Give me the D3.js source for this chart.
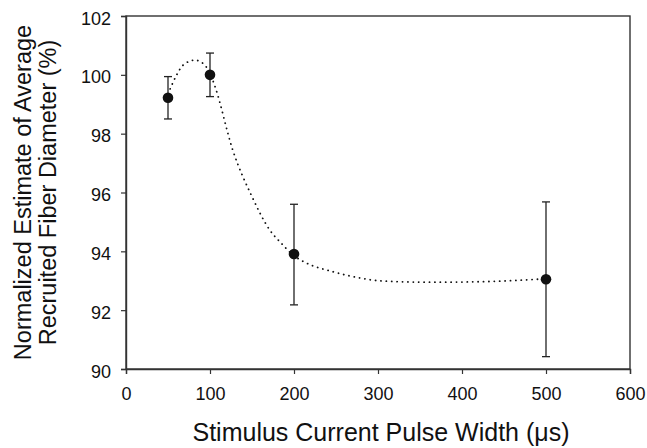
<!DOCTYPE html>
<html>
<head>
<meta charset="utf-8">
<script src="https://cdn.jsdelivr.net/npm/d3@7"></script>
<style>
  body { margin: 0; background: #fff; }
  text { font-family: "Liberation Sans", Arial, sans-serif; fill: #111; }
</style>
</head>
<body>
<svg width="647" height="448"></svg>
<script>
// measured points: pulse width (us), mean, error bar top / bottom
const pulseWidths = [50, 100, 200, 500];
const meanDiameter = [99.22, 100.0, 93.91, 93.05];
const errTop = [99.94, 100.74, 95.6, 95.68];
const errBottom = [98.5, 99.26, 92.18, 90.42];

// dotted fit curve
const fitX = [50, 60, 68, 82, 92, 100, 106, 127, 150, 171, 185, 200, 215, 246, 267, 306, 366, 425, 489, 500];
const fitY = [99.35, 99.98, 100.33, 100.5, 100.38, 100.05, 99.6, 97.45, 95.86, 94.73, 94.27, 93.85, 93.6, 93.31, 93.16, 92.99, 92.95, 92.97, 93.05, 93.07];

const xTicks = [0, 100, 200, 300, 400, 500, 600];
const yTicks = [90, 92, 94, 96, 98, 100, 102];

const margin = {top: 16, right: 17, bottom: 79, left: 126};
const width = 647, height = 448;

const svg = d3.select("svg");

const x = d3.scaleLinear().domain([0, 600]).range([margin.left, width - margin.right]);
const y = d3.scaleLinear().domain([90, 102]).range([height - margin.bottom, margin.top]);

const axisColor = "#333";

// box
svg.append("rect")
    .attr("x", x(0)).attr("y", y(102))
    .attr("width", x(600) - x(0)).attr("height", y(90) - y(102))
    .attr("fill", "none").attr("stroke", axisColor).attr("stroke-width", 1.4);

const xAxis = svg.append("g")
    .attr("transform", `translate(0,${y(90)})`)
    .call(d3.axisBottom(x).tickValues(xTicks).tickSize(5).tickPadding(13));

const yAxis = svg.append("g")
    .attr("transform", `translate(${x(0)},0)`)
    .call(d3.axisLeft(y).tickValues(yTicks).tickSize(5).tickPadding(10));

[xAxis, yAxis].forEach(g => {
    g.select(".domain").attr("stroke", axisColor).attr("stroke-width", 1.4);
    g.selectAll(".tick line").attr("stroke", axisColor).attr("stroke-width", 1.2);
    g.selectAll(".tick text")
        .attr("font-family", "'Liberation Sans', Arial, sans-serif")
        .attr("font-size", 18).attr("fill", "#111");
});
yAxis.selectAll(".tick text").attr("dy", "0.45em");

// fit line
const fitData = fitX.map((d, i) => ({x: d, y: fitY[i]}));
svg.append("path")
    .datum(fitData)
    .attr("fill", "none")
    .attr("stroke", "#111")
    .attr("stroke-width", 1.8)
    .attr("stroke-linecap", "round")
    .attr("stroke-dasharray", "0.1,5.3")
    .attr("d", d3.line().x(d => x(d.x)).y(d => y(d.y)).curve(d3.curveMonotoneX));

// error bars
const pts = pulseWidths.map((d, i) => ({x: d, m: meanDiameter[i], hi: errTop[i], lo: errBottom[i]}));
const eb = svg.append("g").attr("stroke", "#222").attr("stroke-width", 1.3);
eb.selectAll(".v").data(pts).join("line")
    .attr("x1", d => x(d.x)).attr("x2", d => x(d.x))
    .attr("y1", d => y(d.hi)).attr("y2", d => y(d.lo));
eb.selectAll(".t").data(pts).join("line")
    .attr("x1", d => x(d.x) - 4).attr("x2", d => x(d.x) + 4)
    .attr("y1", d => y(d.hi)).attr("y2", d => y(d.hi));
eb.selectAll(".b").data(pts).join("line")
    .attr("x1", d => x(d.x) - 4).attr("x2", d => x(d.x) + 4)
    .attr("y1", d => y(d.lo)).attr("y2", d => y(d.lo));

svg.append("g").selectAll("circle").data(pts).join("circle")
    .attr("cx", d => x(d.x)).attr("cy", d => y(d.m))
    .attr("r", 5.3).attr("fill", "#111");

// titles
svg.append("text")
    .attr("x", (x(0) + x(600)) / 2 + 3).attr("y", 441)
    .attr("text-anchor", "middle").attr("font-size", 25)
    .text("Stimulus Current Pulse Width (\u03bcs)");

const yTitle = svg.append("text")
    .attr("transform", `translate(0,${(y(90) + y(102)) / 2}) rotate(-90)`)
    .attr("text-anchor", "middle").attr("font-size", 23.5);
yTitle.append("tspan").attr("x", 0).attr("y", 31).text("Normalized Estimate of Average");
yTitle.append("tspan").attr("x", 0).attr("y", 56).text("Recruited Fiber Diameter (%)");
</script>
</body>
</html>
